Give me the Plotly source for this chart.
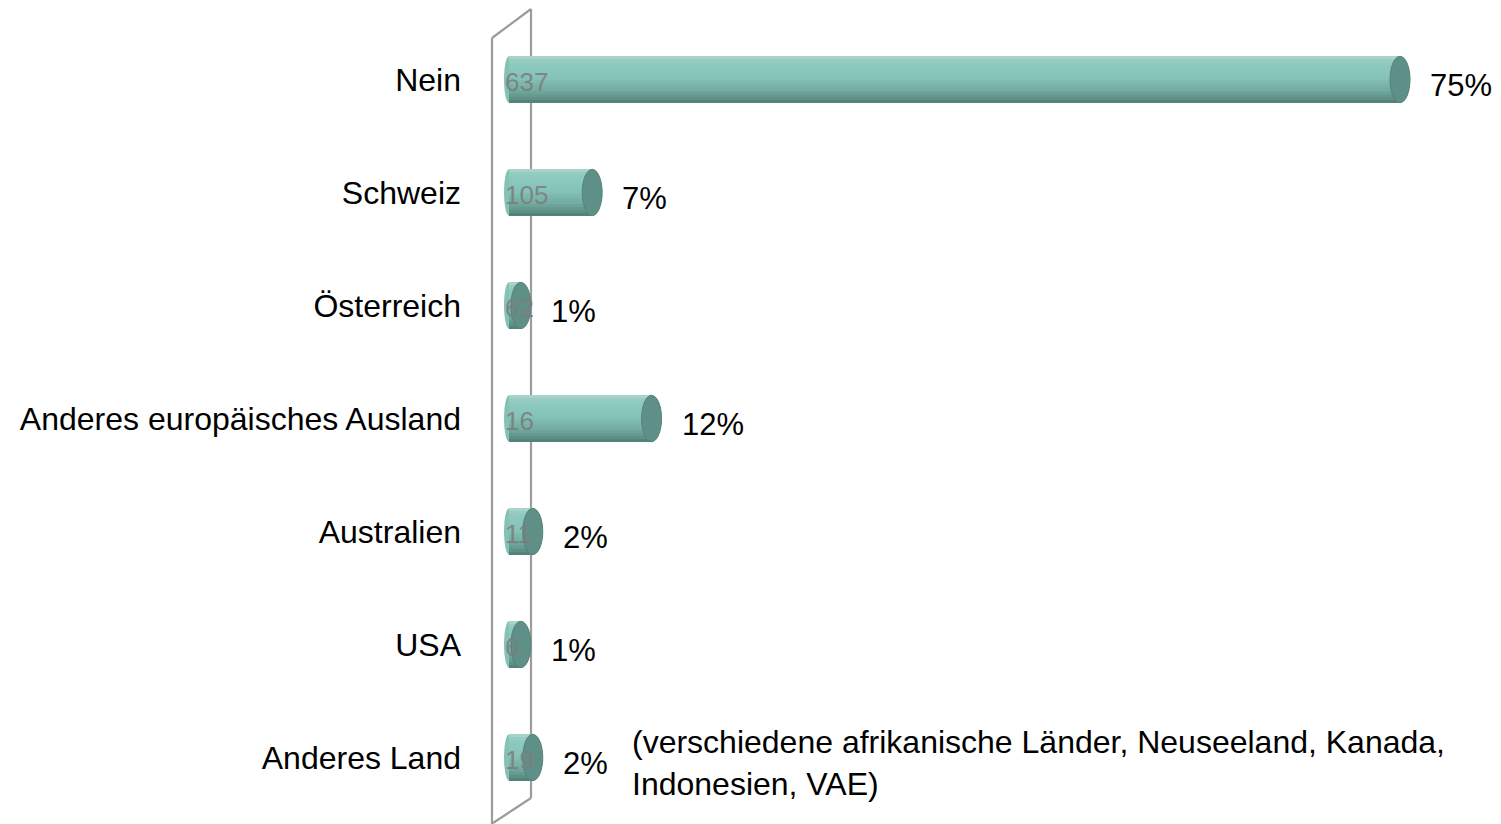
import plotly.graph_objects as go

# Survey answers: categories, share in percent (bar length) and the respondent counts shown inside the bars
categories = ["Nein", "Schweiz", "Österreich", "Anderes europäisches Ausland",
              "Australien", "USA", "Anderes Land"]
percent = [75, 7, 1, 12, 2, 1, 2]
counts = [637, 105, 62, 16, 11, 6, 19]
note_text = "(verschiedene afrikanische Länder, Neuseeland, Kanada,<br>Indonesien, VAE)"

# Page geometry
W, H = 1501, 824
M_L, M_R, M_T, M_B = 480, 21, 23, 10
PLOT_W = W - M_L - M_R
PLOT_H = H - M_T - M_B
ZERO_PX = 509            # pixel column of the value 0
UNIT_PX = 11.88          # pixels per percentage point
BAR_W = 0.41             # cylinder thickness in category units

x_range = [(M_L - ZERO_PX) / UNIT_PX, (M_L + PLOT_W - ZERO_PX) / UNIT_PX]
ypos = list(range(len(categories)))


def paper_x(px):
    return (px - M_L) / PLOT_W


def paper_y(py):
    return 1 - (py - M_T) / PLOT_H


def mix(c1, c2, t):
    a = [int(c1[i:i + 2], 16) for i in (1, 3, 5)]
    b = [int(c2[i:i + 2], 16) for i in (1, 3, 5)]
    return "#" + "".join(f"{round(a[k] + (b[k] - a[k]) * t):02x}" for k in range(3))


# Vertical shading of the cylinder body (fraction from top, colour)
stops = [(0.0, "#b0d6cf"), (0.12, "#8fcbc0"), (0.45, "#85c3b7"),
         (0.72, "#74ada2"), (0.88, "#62958b"), (1.0, "#4e7d74")]
N_STRIPES = 16

fig = go.Figure()
for s in range(N_STRIPES):
    a, b = s / N_STRIPES, (s + 1) / N_STRIPES
    t = (a + b) / 2
    for (f0, c0), (f1, c1) in zip(stops[:-1], stops[1:]):
        if f0 <= t <= f1:
            col = mix(c0, c1, (t - f0) / (f1 - f0))
            break
    fig.add_trace(go.Bar(
        x=percent, y=ypos, orientation="h",
        offset=-BAR_W / 2 + a * BAR_W, width=(b - a) * BAR_W * 1.02,
        marker=dict(color=col, line=dict(width=0)),
        hoverinfo="skip", showlegend=False,
    ))

shapes = []
# Side wall of the 3D frame
wall = "#9c9c9c"
for (x0, y0, x1, y1) in [(492, 38, 492, 824), (531, 9, 531, 798),
                         (492, 38, 531, 9), (531, 798, 493, 823)]:
    shapes.append(dict(type="line", xref="paper", yref="paper",
                       x0=paper_x(x0), y0=paper_y(y0), x1=paper_x(x1), y1=paper_y(y1),
                       line=dict(color=wall, width=2.2), layer="below"))

for i, v in zip(ypos, percent):
    # rounded left end of the cylinder
    shapes.append(dict(type="circle", xref="x", yref="y", xsizemode="pixel", xanchor=0,
                       x0=-5, x1=5, y0=i - BAR_W / 2, y1=i + BAR_W / 2,
                       fillcolor="#84c2b6", line=dict(width=0), layer="below"))
    # end cap
    shapes.append(dict(type="circle", xref="x", yref="y", xsizemode="pixel", xanchor=v,
                       x0=-10, x1=10, y0=i - BAR_W / 2, y1=i + BAR_W / 2,
                       fillcolor="#5e9088", line=dict(color="#55837b", width=1), layer="above"))

annotations = []
for i, v, n in zip(ypos, percent, counts):
    annotations.append(dict(x=v, y=i, xref="x", yref="y", text=f"{v}%", showarrow=False,
                            xanchor="left", yanchor="middle", xshift=28, yshift=-6,
                            font=dict(size=31, color="#000000")))
    annotations.append(dict(x=0, y=i, xref="x", yref="y", text=str(n), showarrow=False,
                            xanchor="left", yanchor="middle", xshift=-6, yshift=-2,
                            font=dict(size=26, color="rgba(125,125,125,0.9)")))

annotations.append(dict(x=paper_x(630), y=ypos[-1], xref="paper", yref="y", text=note_text,
                        showarrow=False, xanchor="left", yanchor="middle", align="left",
                        yshift=-5, font=dict(size=32, color="#000000")))

fig.update_layout(
    width=W, height=H,
    margin=dict(l=M_L, r=M_R, t=M_T, b=M_B, pad=0),
    paper_bgcolor="white", plot_bgcolor="white",
    barmode="overlay", bargap=0,
    font=dict(family="Liberation Sans, Arial, sans-serif", color="#000000"),
    xaxis=dict(range=x_range, visible=False, fixedrange=True),
    yaxis=dict(range=[len(categories) - 0.5, -0.5], tickvals=ypos, ticktext=categories,
               showgrid=False, zeroline=False, showline=False, ticks="",
               tickfont=dict(size=32), ticklabelstandoff=18, fixedrange=True),
    shapes=shapes, annotations=annotations,
)

fig.write_html("out.html")
